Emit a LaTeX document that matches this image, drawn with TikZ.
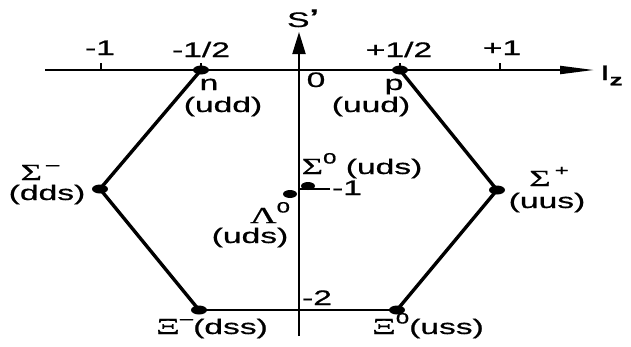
\documentclass[tikz,border=0pt]{standalone}
\usepackage{fontspec}
\setmainfont{Liberation Sans}[FakeBold=0.6]
\newfontfamily\grk{Liberation Serif}[FakeBold=0.4]
\usetikzlibrary{arrows.meta,shapes.geometric}
\newcommand{\mysup}[1]{\raisebox{0.5em}{\fontsize{15}{16}\selectfont #1}}
\newcommand{\gl}[1]{{\grk\fontsize{23}{24}\selectfont #1}}
\begin{document}
\begin{tikzpicture}[x=1pt,y=-1pt,
  lbl/.style={font=\fontsize{21}{23}\selectfont, xscale=1.6, inner sep=0pt, anchor=base},
  dot/.style={ellipse, fill=black, minimum width=16pt, minimum height=9pt, inner sep=0pt},
  edge/.style={line width=3.4pt, line join=round, line cap=round},
  axis/.style={line width=2pt},
  tick/.style={line width=1.5pt}]
\useasboundingbox (0,0) rectangle (631,346);
% axes
\coordinate (xl) at (45,70);
\coordinate (xr) at (594,70);
\coordinate (yb) at (299,336);
\coordinate (yt) at (299,32);
\draw[axis, -{Triangle[length=34pt,width=8pt]}] (xl) -- (xr);
\draw[axis, -{Triangle[length=22pt,width=13pt]}] (yb) -- (yt);
% ticks on I_z axis
\foreach \x/\nm in {101/t1,201/t2,400/t3,500/t4}{
  \coordinate (\nm a) at (\x,70);
  \coordinate (\nm b) at (\x,63);
  \draw[tick] (\nm a) -- (\nm b);
}
% tick at S'=-1
\coordinate (m1a) at (299,189);
\coordinate (m1b) at (330,189);
\draw[tick] (m1a) -- (m1b);
% hexagon vertices
\node[dot] (n) at (201,70) {};
\node[dot] (p) at (400,70) {};
\node[dot] (sm) at (100,189) {};
\node[dot] (sp) at (497,190) {};
\node[dot] (xm) at (199,310) {};
\node[dot] (x0) at (397,310) {};
\node[dot, minimum width=14pt, minimum height=8pt] (s0) at (308,186) {};
\node[dot, minimum width=14pt, minimum height=8pt] (l0) at (290,194) {};
\draw[edge] (n.center) -- (sm.center) -- (xm.center);
\draw[edge] (x0.center) -- (sp.center) -- (p.center);
\draw[line width=2.6pt] (n.center) -- (p.center);
\draw[line width=2.2pt] (xm.center) -- (x0.center);
% axis labels
\node[lbl] (lS) at (303,27) {S\raisebox{0.15em}{\textbf{'}}};
\node[lbl, anchor=base west] (lI) at (600,80) {I\raisebox{-0.25em}{\fontsize{16}{17}\selectfont\bfseries z}};
% tick labels
\node[lbl] (k1) at (100,55) {-1};
\node[lbl] (k2) at (201,57) {-1/2};
\node[lbl] (k3) at (399,57) {+1/2};
\node[lbl] (k4) at (502,55) {+1};
\node[lbl] (k0) at (316,87) {0};
\node[lbl] (km1) at (347,195) {-1};
\node[lbl] (km2) at (317,305) {-2};
% particle labels
\node[lbl] (ln) at (209,90) {n};
\node[lbl] (lnq) at (223,112) {(udd)};
\node[lbl] (lp) at (394,90) {p};
\node[lbl] (lpq) at (371,112) {(uud)};
\node[lbl] (lsm) at (40,180) {\gl{Σ}\mysup{\,–}};
\node[lbl] (lsmq) at (47,200) {(dds)};
\node[lbl] (lsp) at (549,186) {\gl{Σ}\mysup{\,+}};
\node[lbl] (lspq) at (547,208) {(uus)};
\node[lbl] (ls0) at (362,174) {\gl{Σ}\mysup{0} (uds)};
\node[lbl] (ll0) at (270,223) {\gl{Λ}\mysup{0}};
\node[lbl] (ll0q) at (250,243) {(uds)};
\node[lbl] (lxm) at (212,334) {\gl{Ξ}\mysup{–}(dss)};
\node[lbl] (lx0) at (428,334) {\gl{Ξ}\mysup{0}(uss)};
\end{tikzpicture}
\end{document}
